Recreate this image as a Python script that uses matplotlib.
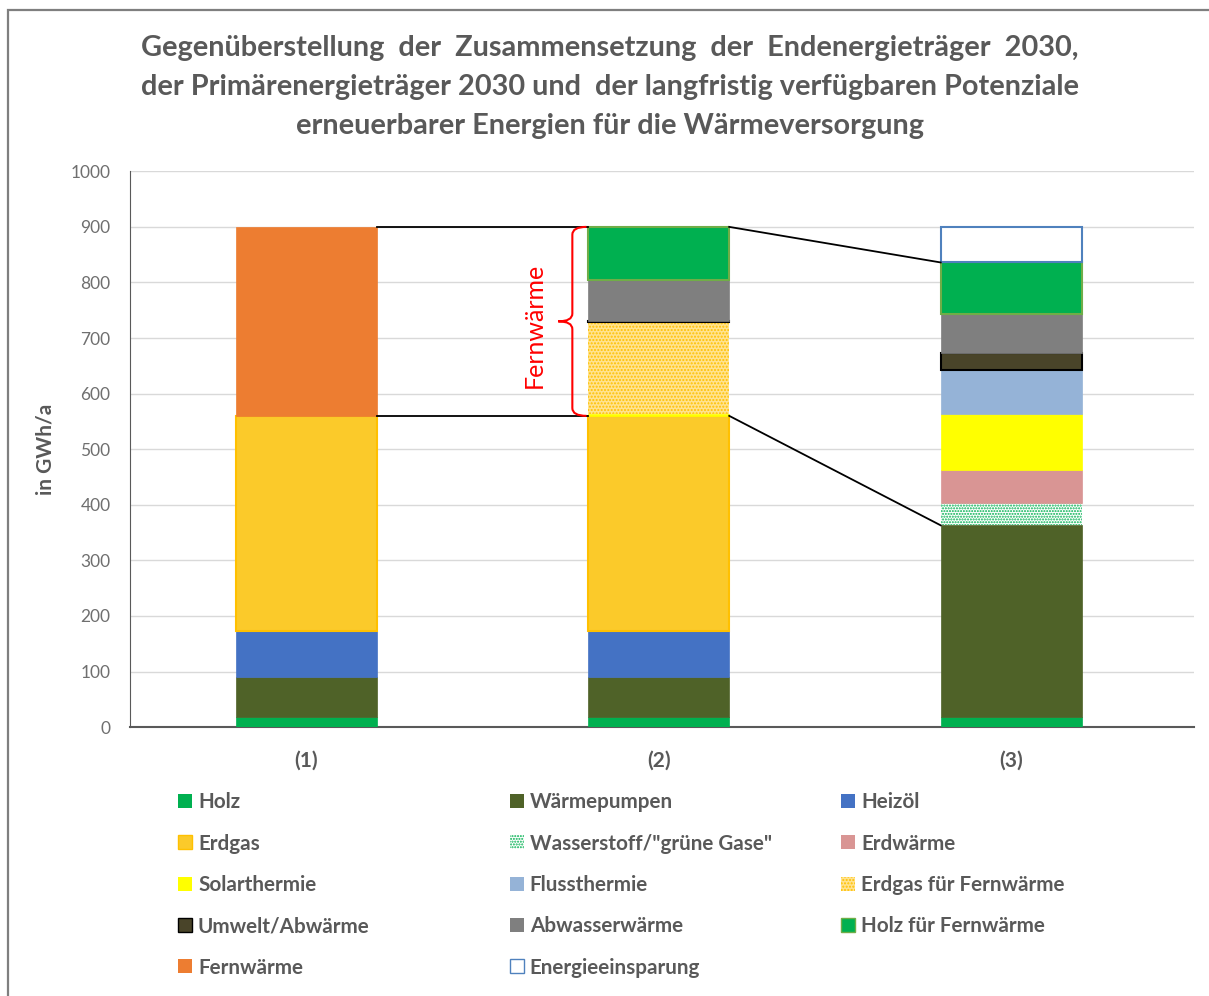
import numpy as np
import matplotlib
matplotlib.use("Agg")
import matplotlib.pyplot as plt
from matplotlib.patches import Patch, Rectangle, PathPatch
from matplotlib.path import Path

plt.rcParams['font.family'] = ['Lato', 'DejaVu Sans']
plt.rcParams['hatch.linewidth'] = 1.0

##################################################################
# data (GWh/a) : (1) Endenergie 2030, (2) Primaerenergie 2030, (3) Potenziale
bars = ["(1)", "(2)", "(3)"]

holz         = [18, 18, 18]
waermepumpen = [72, 72, 345]
heizoel      = [83, 83, 0]
erdgas       = [387, 387, 0]
wasserstoff  = [0, 0, 40]
erdwaerme    = [0, 0, 60]
solarthermie = [0, 4, 100]
flussthermie = [0, 0, 80]
erdgas_fw    = [0, 164, 0]
umwelt       = [0, 3, 30]
abwasser     = [0, 74, 70]
holz_fw      = [0, 95, 93]
fernwaerme   = [340, 0, 0]
einsparung   = [0, 0, 64]

title_lines = [
  "Gegenüberstellung  der  Zusammensetzung  der  Endenergieträger  2030,",
  "der Primärenergieträger 2030 und  der langfristig verfügbaren Potenziale",
  "erneuerbarer Energien für die Wärmeversorgung",
]

##################################################################
# series in stacking order : label, values, face, edge, hatch
series = [
  ("Holz",                       holz,         "#00B050", None,      None),
  ("Wärmepumpen",                waermepumpen, "#4F6228", None,      None),
  ("Heizöl",                     heizoel,      "#4472C4", None,      None),
  ("Erdgas",                     erdgas,       "#FBCA2A", "#FFC000", None),
  ('Wasserstoff/"grüne Gase"',   wasserstoff,  "white",   "#00B050", "......"),
  ("Erdwärme",                   erdwaerme,    "#D99594", None,      None),
  ("Solarthermie",               solarthermie, "#FFFF00", None,      None),
  ("Flussthermie",               flussthermie, "#95B3D7", None,      None),
  ("Erdgas für Fernwärme",       erdgas_fw,    "#FFE390", "#FFC000", "....."),
  ("Umwelt/Abwärme",             umwelt,       "#494429", "black",   None),
  ("Abwasserwärme",              abwasser,     "#7F7F7F", None,      None),
  ("Holz für Fernwärme",         holz_fw,      "#00B050", "#70AD47", None),
  ("Fernwärme",                  fernwaerme,   "#ED7D31", None,      None),
  ("Energieeinsparung",          einsparung,   "white",   "#4F81BD", None),
]

grey = "#595959"
width = 0.4
x = np.arange(len(bars))

fig = plt.figure(figsize=(12.09, 9.96), dpi=100)
ax = fig.add_axes([0.1075, 0.270, 0.8805, 0.558])

bottom = np.zeros(len(bars))
tops = {}
handles = []
for label, vals, face, edge, hatch in series :
  vals = np.array(vals, dtype=float)
  ec = edge if edge else face
  # hatched bars: edge colour only feeds the pattern, no outline
  lw = 0 if hatch else (1.5 if edge else 0.5)
  edges = [ec if v > 0 else "none" for v in vals]
  ax.bar(x, vals, width, bottom=bottom, color=face, edgecolor=edges,
         hatch=hatch, linewidth=lw, zorder=3)
  bottom = bottom + vals
  tops[label] = bottom.copy()
  handles.append(Patch(facecolor=face, edgecolor=ec, hatch=hatch,
                       linewidth=1.0 if (edge and not hatch) else 0, label=label))

##################################################################
# connecting lines between the bars
total = bottom
erdgas_top = tops["Erdgas"]
wp_top = tops["Wärmepumpen"]
holzfw_top = tops["Holz für Fernwärme"]
lk = dict(color="black", lw=1.3, zorder=4)
ax.plot([x[0] + width/2, x[1] - width/2], [total[0], total[1]], **lk)
ax.plot([x[0] + width/2, x[1] - width/2], [erdgas_top[0], erdgas_top[1]], **lk)
ax.plot([x[1] + width/2, x[2] - width/2], [total[1], holzfw_top[2]], **lk)
ax.plot([x[1] + width/2, x[2] - width/2], [erdgas_top[1], wp_top[2]], **lk)

# curly brace for the Fernwaerme share of bar (2)
lo, hi = erdgas_top[1], total[1]
mid = (lo + hi) / 2
xe = x[1] - width/2 - 0.005
xv = x[1] - width/2 - 0.045
xt = x[1] - width/2 - 0.085
r = 14
verts = [(xe, hi), (xv, hi), (xv, hi - r), (xv, mid + r), (xv, mid), (xt, mid),
         (xv, mid), (xv, mid - r), (xv, lo + r), (xv, lo), (xe, lo)]
codes = [Path.MOVETO, Path.CURVE3, Path.CURVE3, Path.LINETO, Path.CURVE3, Path.CURVE3,
         Path.CURVE3, Path.CURVE3, Path.LINETO, Path.CURVE3, Path.CURVE3]
ax.add_patch(PathPatch(Path(verts, codes), facecolor="none", edgecolor="red",
                       lw=1.5, zorder=5))
ax.text(xt - 0.068, mid - 8, "Fernwärme", color="red", fontsize=18,
        rotation=90, ha="center", va="center")

##################################################################
# axes styling
ax.set_xlim(-0.5, 2.52)
ax.set_ylim(0, 1000)
ax.set_yticks(np.arange(0, 1001, 100))
ax.set_xticks(x)
ax.set_xticklabels(bars, fontsize=15, fontweight="bold", color=grey)
ax.tick_params(axis="y", length=0, pad=14, labelsize=12.5, labelcolor="#6F6F6F")
ax.tick_params(axis="x", length=0, pad=17)
ax.grid(axis="y", color="#D9D9D9", lw=1)
ax.set_axisbelow(True)
for s in ("top", "right") :
  ax.spines[s].set_visible(False)
ax.spines["left"].set_color(grey)
ax.spines["bottom"].set_color(grey)
ax.spines["bottom"].set_linewidth(1.5)
ax.set_ylabel("in GWh/a", fontsize=15, fontweight="bold", color=grey)
ax.yaxis.set_label_coords(-0.07, 0.5)

# title
for i, line in enumerate(title_lines) :
  fig.text(0.5045, 1 - (48 + 39*i)/996., line, ha="center", va="center",
           fontsize=20.8, fontweight="bold", color=grey)

# legend, three columns laid out row by row
col_x = [0.1475, 0.422, 0.696]
for c in range(3) :
  leg = fig.legend(handles=handles[c::3], loc="upper left",
                   bbox_to_anchor=(col_x[c], 0.2045), frameon=False,
                   fontsize=14.9, handlelength=0.65, handleheight=0.65,
                   handletextpad=0.3, labelspacing=1.03, borderpad=0,
                   borderaxespad=0)
  for t in leg.get_texts() :
    t.set_color(grey)
    t.set_fontweight("bold")

# grey frame round the figure
fig.patches.append(Rectangle((8/1209., -0.1), 1.2, 1.1 - 10/996., transform=fig.transFigure,
                             fill=False, edgecolor="#7F7F7F", lw=1.6))

fig.savefig("out.png", dpi=100)
